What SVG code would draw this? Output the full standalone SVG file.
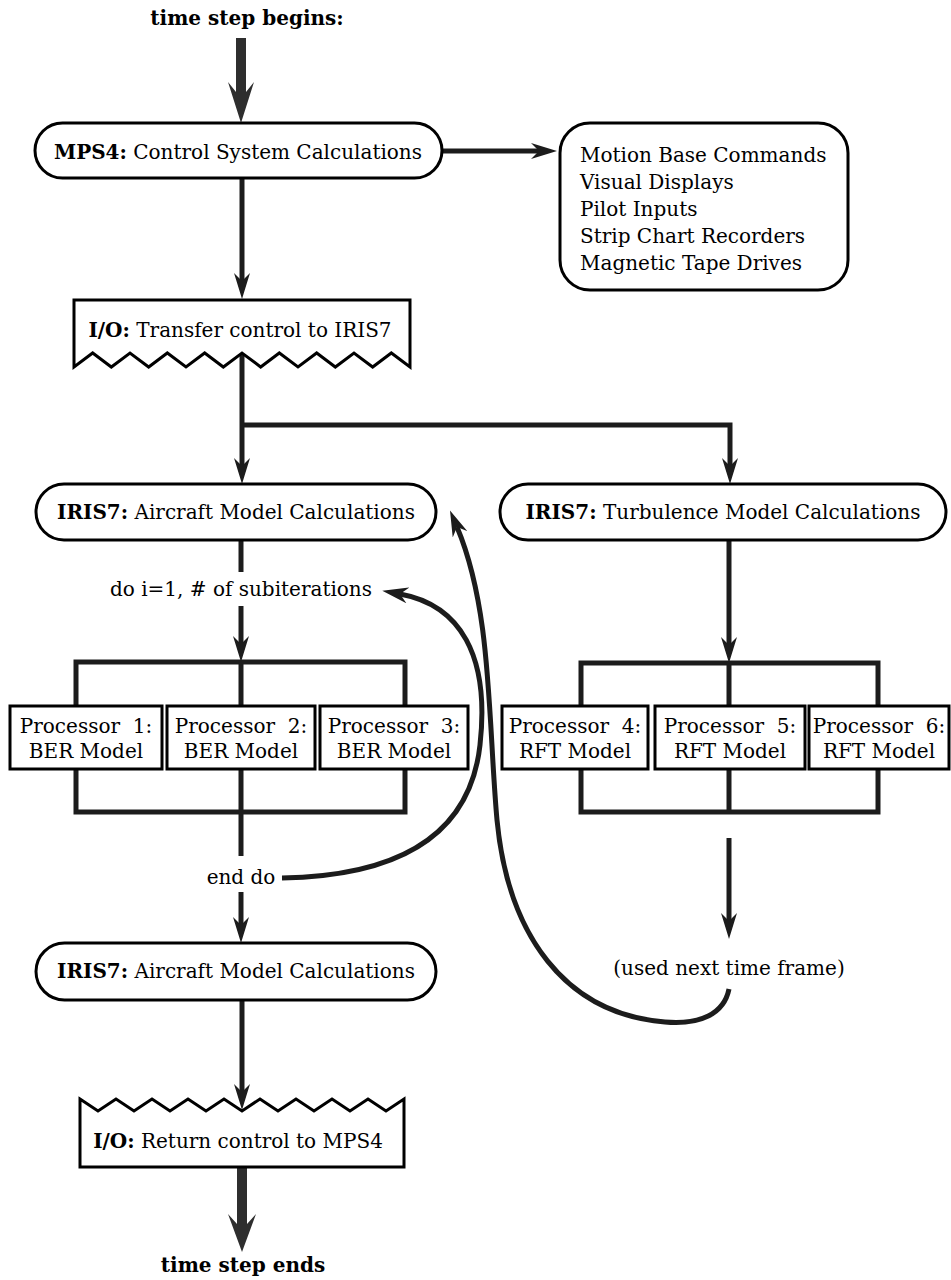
<svg xmlns="http://www.w3.org/2000/svg" width="951" height="1280" viewBox="0 0 951 1280">
<defs>
<style>
text{font-family:"DejaVu Serif","Liberation Serif",serif;font-size:20px;fill:#000}
.b{font-weight:bold}
.mid{text-anchor:middle}
.box{fill:#fff;stroke:#000;stroke-width:3}
.conn{fill:none;stroke:#1c1c1c;stroke-width:5}
.thick{fill:#2e2e2e}
</style>
<marker id="ah" markerUnits="userSpaceOnUse" viewBox="0 0 26 16" markerWidth="26" markerHeight="16" refX="8" refY="8" orient="auto">
<path d="M0,0 L26,8 L0,16 L8,8 Z" fill="#1c1c1c"/>
</marker>
</defs>
<rect width="951" height="1280" fill="#fff"/>

<g id="connectors">
<path class="thick" d="M236,38 H246 V92 L254,82 L241,123 L228,82 L236,92 Z"/>
<path class="conn" d="M242,178 V281" marker-end="url(#ah)"/>
<path class="conn" d="M442,151 H539" marker-end="url(#ah)"/>
<path class="conn" d="M242,353 V466" marker-end="url(#ah)"/>
<path class="conn" d="M242,425 H730 V466" marker-end="url(#ah)"/>
<path class="conn" d="M241,540 V572"/>
<path class="conn" d="M241,606 V644" marker-end="url(#ah)"/>
<rect class="conn" x="76" y="662" width="329" height="150"/>
<path class="conn" d="M241,662 V856"/>
<path class="conn" d="M729,540 V645" marker-end="url(#ah)"/>
<rect class="conn" x="581" y="663" width="297" height="149"/>
<path class="conn" d="M729,663 V812"/>
<path class="conn" d="M729,838 V921" marker-end="url(#ah)"/>
<path class="conn" d="M241,892 V925" marker-end="url(#ah)"/>
<path class="conn" d="M242,1000 V1092" marker-end="url(#ah)"/>
<path class="conn" d="M282,878 C400,876 470,835 480,745 C490,655 460,605 400,594" marker-end="url(#ah)"/>
<path class="conn" d="M729,989 C724,1014 700,1025 665,1022 C565,1014 508,935 497,820 C488,720 492,610 457,527" marker-end="url(#ah)"/>
<path class="thick" d="M237,1167 H247 V1224 L256,1214 L242,1252 L228,1214 L237,1224 Z"/>
</g>

<g id="start"><text class="b mid" x="247" y="25">time step begins:</text></g>

<g id="mps4">
<rect class="box" x="35" y="123" width="407" height="55" rx="27.5"/>
<text class="mid" x="238" y="159"><tspan class="b">MPS4:</tspan> Control System Calculations</text>
</g>

<g id="outputs">
<rect class="box" x="560" y="123" width="288" height="167" rx="30"/>
<text x="580" y="162">Motion Base Commands</text>
<text x="580" y="189">Visual Displays</text>
<text x="580" y="216">Pilot Inputs</text>
<text x="580" y="243">Strip Chart Recorders</text>
<text x="580" y="270">Magnetic Tape Drives</text>
</g>

<g id="io-transfer">
<path class="box" d="M74,300 H410 V367 L391.33,353 L372.67,367 L354,353 L335.33,367 L316.67,353 L298,367 L279.33,353 L260.67,367 L242,353 L223.33,367 L204.67,353 L186,367 L167.33,353 L148.67,367 L130,353 L111.33,367 L92.67,353 L74,367 Z"/>
<text class="mid" x="240" y="337"><tspan class="b">I/O:</tspan> Transfer control to IRIS7</text>
</g>

<g id="iris7-aircraft">
<rect class="box" x="36" y="484" width="400" height="56" rx="28"/>
<text class="mid" x="236" y="519"><tspan class="b">IRIS7:</tspan> Aircraft Model Calculations</text>
</g>

<g id="iris7-turbulence">
<rect class="box" x="500" y="484" width="446" height="56" rx="28"/>
<text class="mid" x="723" y="519"><tspan class="b">IRIS7:</tspan> Turbulence Model Calculations</text>
</g>

<g id="do-loop"><text class="mid" x="241" y="596">do i=1, # of subiterations</text></g>

<g id="proc1"><rect class="box" x="10" y="706" width="152" height="63"/>
<text class="mid" x="86" y="733" xml:space="preserve">Processor  1:</text><text class="mid" x="86" y="758">BER Model</text></g>
<g id="proc2"><rect class="box" x="167" y="706" width="148" height="63"/>
<text class="mid" x="241" y="733" xml:space="preserve">Processor  2:</text><text class="mid" x="241" y="758">BER Model</text></g>
<g id="proc3"><rect class="box" x="320" y="706" width="148" height="63"/>
<text class="mid" x="394" y="733" xml:space="preserve">Processor  3:</text><text class="mid" x="394" y="758">BER Model</text></g>
<g id="proc4"><rect class="box" x="502" y="706" width="146" height="63"/>
<text class="mid" x="575" y="733" xml:space="preserve">Processor  4:</text><text class="mid" x="575" y="758">RFT Model</text></g>
<g id="proc5"><rect class="box" x="655" y="706" width="150" height="63"/>
<text class="mid" x="730" y="733" xml:space="preserve">Processor  5:</text><text class="mid" x="730" y="758">RFT Model</text></g>
<g id="proc6"><rect class="box" x="809" y="706" width="140" height="63"/>
<text class="mid" x="879" y="733" xml:space="preserve">Processor  6:</text><text class="mid" x="879" y="758">RFT Model</text></g>

<g id="end-do"><text class="mid" x="241" y="884">end do</text></g>

<g id="iris7-aircraft-2">
<rect class="box" x="36" y="943" width="400" height="57" rx="28.5"/>
<text class="mid" x="236" y="978"><tspan class="b">IRIS7:</tspan> Aircraft Model Calculations</text>
</g>

<g id="used-next"><text class="mid" x="729" y="975">(used next time frame)</text></g>

<g id="io-return">
<path class="box" d="M80,1099 L98,1111 L116,1099 L134,1111 L152,1099 L170,1111 L188,1099 L206,1111 L224,1099 L242,1111 L260,1099 L278,1111 L296,1099 L314,1111 L332,1099 L350,1111 L368,1099 L386,1111 L404,1099 V1167 H80 Z"/>
<text class="mid" x="238" y="1148"><tspan class="b">I/O:</tspan> Return control to MPS4</text>
</g>

<g id="end"><text class="b mid" x="243" y="1272">time step ends</text></g>
</svg>
